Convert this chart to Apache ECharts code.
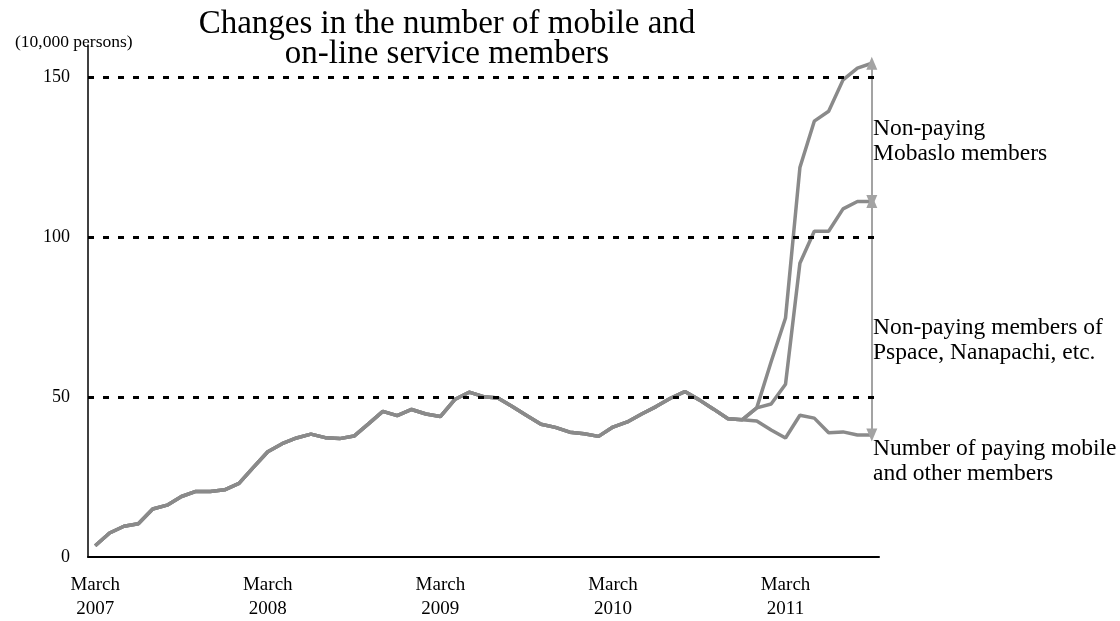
<!DOCTYPE html>
<html>
<head>
<meta charset="utf-8">
<script src="https://cdn.jsdelivr.net/npm/echarts@6/dist/echarts.min.js"></script>
<style>
  html, body { margin: 0; padding: 0; background: #fff; }
  #chart { width: 1120px; height: 621px; }
</style>
</head>
<body>
<div id="chart"></div>
<script>
  // monthly, March 2007 .. September 2011
  var months = [
    '2007/03','2007/04','2007/05','2007/06','2007/07','2007/08','2007/09','2007/10','2007/11','2007/12',
    '2008/01','2008/02','2008/03','2008/04','2008/05','2008/06','2008/07','2008/08','2008/09','2008/10','2008/11','2008/12',
    '2009/01','2009/02','2009/03','2009/04','2009/05','2009/06','2009/07','2009/08','2009/09','2009/10','2009/11','2009/12',
    '2010/01','2010/02','2010/03','2010/04','2010/05','2010/06','2010/07','2010/08','2010/09','2010/10','2010/11','2010/12',
    '2011/01','2011/02','2011/03','2011/04','2011/05','2011/06','2011/07','2011/08','2011/09'
  ];

  // all three lines run together until late 2010 (10,000 persons)
  var shared = [3.5, 7.5, 9.6, 10.4, 15.0, 16.2, 18.9, 20.5, 20.5, 21.0, 23.0, 28.0, 32.9, 35.4, 37.2, 38.4,
    37.3, 37.0, 37.8, 41.6, 45.5, 44.2, 46.1, 44.7, 43.9, 49.2, 51.5, 50.1, 49.7, 47.0, 44.2, 41.5,
    40.5, 39.0, 38.5, 37.7, 40.6, 42.2, 44.7, 47.0, 49.6, 51.7, 49.1, 46.2, 43.2, 42.9];
  var payingTail = [42.5, 39.7, 37.2, 44.3, 43.4, 38.8, 39.1, 38.1, 38.1];
  var pspaceTail = [46.6, 47.8, 54.0, 91.8, 101.8, 101.8, 108.8, 111.1, 111.1];
  var mobasloTail = [46.6, 61.0, 74.7, 121.7, 136.2, 139.3, 149.1, 152.8, 154.3];

  var paying = shared.concat(payingTail);
  var withPspace = shared.concat(pspaceTail);
  var withMobaslo = shared.concat(mobasloTail);

  var yTicks = [0, 50, 100, 150];
  var gridLines = [50, 100, 150];

  var serif = "'Liberation Serif', 'Times New Roman', serif";
  var lineColor = '#8a8a8a';
  var arrowColor = '#a3a3a3';
  var last = months.length - 1;

  var chart = echarts.init(document.getElementById('chart'));

  chart.setOption({
    animation: false,
    grid: { left: 88, right: 241, top: 45, bottom: 60 },
    xAxis: {
      type: 'category',
      data: months,
      boundaryGap: true,
      axisLine: { lineStyle: { color: '#000', width: 2 } },
      axisTick: {
        inside: true,
        length: 5,
        lineStyle: { color: '#000', width: 1.5 },
        interval: function (i) { return i % 12 === 0; }
      },
      axisLabel: {
        interval: function (i) { return i % 12 === 0; },
        color: '#000',
        fontFamily: serif,
        fontSize: 19,
        lineHeight: 24,
        margin: 16,
        formatter: function (v) { return 'March\n' + v.slice(0, 4); }
      },
      splitLine: { show: false }
    },
    yAxis: {
      type: 'value',
      min: 0,
      max: 160,
      interval: 50,
      axisLine: { show: true, lineStyle: { color: '#000', width: 1.5 } },
      axisTick: { show: false },
      splitLine: { show: false },
      axisLabel: {
        color: '#000',
        fontFamily: serif,
        fontSize: 18,
        margin: 18,
        formatter: function (v) { return yTicks.indexOf(v) >= 0 ? String(v) : ''; }
      }
    },
    series: [
      {
        type: 'line',
        data: withMobaslo,
        symbol: 'none',
        lineStyle: { color: lineColor, width: 3.5 },
        markLine: {
          silent: true,
          symbol: ['triangle', 'triangle'],
          symbolSize: [11, 13],
          label: { show: false },
          lineStyle: { color: arrowColor, width: 2, type: 'solid' },
          data: [
            [{ coord: [months[last], withMobaslo[last]] }, { coord: [months[last], withPspace[last]] }],
            [{ coord: [months[last], withPspace[last]] }, { coord: [months[last], paying[last]] }]
          ]
        }
      },
      {
        type: 'line',
        data: withPspace,
        symbol: 'none',
        lineStyle: { color: lineColor, width: 3.5 }
      },
      {
        type: 'line',
        data: paying,
        symbol: 'none',
        lineStyle: { color: lineColor, width: 3.5 },
        markLine: {
          silent: true,
          symbol: 'none',
          label: { show: false },
          lineStyle: { color: '#000', width: 3, type: [6, 9] },
          data: gridLines.map(function (v) { return { yAxis: v }; })
        }
      }
    ],
    graphic: [
      {
        type: 'text', x: 447, y: 39,
        style: {
          text: 'Changes in the number of mobile and\non-line service members',
          fontFamily: serif, fontSize: 33, lineHeight: 30, fill: '#000',
          align: 'center', verticalAlign: 'middle'
        }
      },
      {
        type: 'text', x: 15, y: 42,
        style: {
          text: '(10,000 persons)', fontFamily: serif, fontSize: 17.5, fill: '#000',
          align: 'left', verticalAlign: 'middle'
        }
      },
      {
        type: 'text', x: 873, y: 141,
        style: {
          text: 'Non-paying\nMobaslo members', fontFamily: serif, fontSize: 23.5, lineHeight: 25,
          fill: '#000', align: 'left', verticalAlign: 'middle'
        }
      },
      {
        type: 'text', x: 873, y: 340,
        style: {
          text: 'Non-paying members of\nPspace, Nanapachi, etc.', fontFamily: serif, fontSize: 23.5, lineHeight: 25,
          fill: '#000', align: 'left', verticalAlign: 'middle'
        }
      },
      {
        type: 'text', x: 873, y: 461,
        style: {
          text: 'Number of paying mobile\nand other members', fontFamily: serif, fontSize: 23.5, lineHeight: 25,
          fill: '#000', align: 'left', verticalAlign: 'middle'
        }
      }
    ]
  });
</script>
</body>
</html>
